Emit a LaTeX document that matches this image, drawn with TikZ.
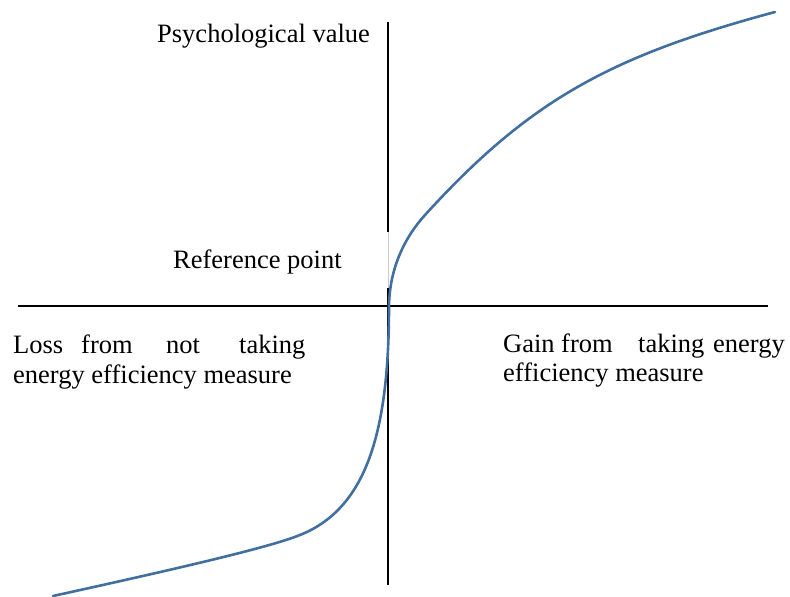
\documentclass[tikz,border=0pt]{standalone}
\usepackage{fontspec}
\setmainfont{Liberation Serif}
\definecolor{curveblue}{RGB}{65,112,160}
\begin{document}
\begin{tikzpicture}[x=1pt,y=-1pt,
  lbl/.style={anchor=base west,inner sep=0pt,font=\fontsize{26.5}{31}\selectfont},
  axis/.style={line width=1.2pt,black}]
\useasboundingbox (0,0) rectangle (790,597);
% axes
\coordinate (vtop) at (388,22);
\coordinate (vgap1) at (388,232);
\coordinate (vgap2) at (388,288);
\coordinate (vbot) at (388,585);
\coordinate (hl) at (18,306);
\coordinate (hr) at (768,306);
\draw[axis] (hl) -- (hr);
\draw[axis] (vtop) -- (vgap1);
\draw[gray!40,line width=0.6pt] (vgap1) -- (vgap2);
\draw[axis] (vgap2) -- (vbot);
% curve
\coordinate (c0) at (53,596);
\coordinate (c1) at (300,535);
\coordinate (c2) at (389,306);
\coordinate (c3) at (425,215);
\coordinate (c4) at (775,12);
\draw[curveblue,line width=2.6pt,line cap=round]
  (c0) .. controls (179,568.3) and (268.55,547.6) .. (c1)
       .. controls (366.75,508.3) and (389,431.7) .. (c2)
       .. controls (389.5,268) and (405,237) .. (c3)
       .. controls (529.8,99.8) and (610.75,56.25) .. (c4);
% labels
\node[lbl] (pv) at (157,42) {Psychological value};
\node[lbl] (rp) at (173,268) {Reference point};
\node[lbl] (l1) at (13,353) {Loss};
\node[lbl] (l2) at (81,353) {from};
\node[lbl] (l3) at (166,353) {not};
\node[lbl] (l4) at (239,353) {taking};
\node[lbl] (l5) at (13,383) {energy efficiency measure};
\node[lbl] (g1) at (503,352) {Gain};
\node[lbl] (g2) at (561,352) {from};
\node[lbl] (g3) at (638,352) {taking};
\node[lbl] (g4) at (713,352) {energy};
\node[lbl] (g5) at (503,381) {efficiency measure};
\end{tikzpicture}
\end{document}
